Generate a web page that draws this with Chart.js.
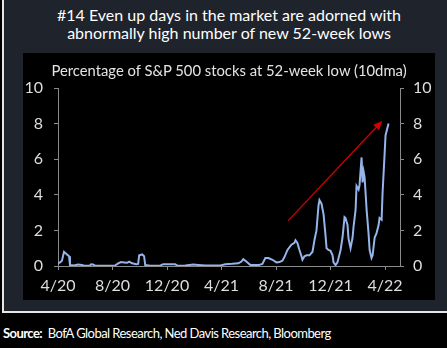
<!DOCTYPE html>
<html>
<head>
<meta charset="utf-8">
<script src="https://cdn.jsdelivr.net/npm/chart.js@4.4.1/dist/chart.umd.min.js"></script>
<style>
  body { margin: 0; background: #000; width: 447px; height: 348px; overflow: hidden; position: relative; font-family: Lato, sans-serif; }
  #frame { position: absolute; left: 2px; top: -5px; width: 470px; height: 318px; border: 2px solid #e6e6e6; background: #1e232c; box-sizing: border-box; }
  #inner { position: absolute; left: 23px; top: 53px; width: 412px; height: 247px; background: #000; }
  #title { position: absolute; left: 23px; top: 6px; width: 412px; text-align: center; color: #fff; font-size: 16px; line-height: 18px; }
  #subtitle { position: absolute; left: 23px; top: 61px; width: 412px; text-align: center; color: #e4e4e4; font-size: 14.8px; line-height: 18px; }
  #wrap { position: absolute; left: 23px; top: 53px; width: 412px; height: 247px; }
  #source { position: absolute; left: 3px; top: 325px; color: #fff; font-size: 13px; letter-spacing: -0.55px; }
</style>
</head>
<body>
<div id="frame"></div>
<div id="inner"></div>
<div id="title">#14 Even up days in the market are adorned with<br>abnormally high number of new 52-week lows</div>
<div id="wrap"><canvas id="chart" width="412" height="247"></canvas></div>
<div id="subtitle">Percentage of S&amp;P 500 stocks at 52-week low (10dma)</div>
<div id="source"><b>Source:</b>&nbsp; BofA Global Research, Ned Davis Research, Bloomberg</div>
<script>
// months since 4/20, and % of S&P 500 stocks at 52-week low (10dma)
const months = [0, 0.15, 0.29, 0.44, 0.66, 0.81, 0.88, 1.18, 1.47, 1.76, 1.91, 2.35, 2.43, 2.57, 2.72, 3.46, 4.19, 4.41, 4.63, 4.85,
  5.07, 5.22, 5.44, 5.74, 5.88, 5.96, 6.18, 6.32, 6.40, 6.76, 7.5, 7.72, 8.24, 8.6, 8.75, 9.34, 9.93, 10.29, 10.81, 11.91,
  12.28, 12.79, 13.24, 13.46, 13.6, 13.82, 14.12, 14.71, 15.0, 15.22, 15.44, 15.74, 16.03, 16.25, 16.47, 16.62, 16.84, 17.13, 17.35, 17.43,
  17.57, 17.72, 17.87, 17.94, 18.09, 18.24, 18.46, 18.68, 18.82, 18.97, 19.12, 19.19, 19.34, 19.49, 19.63, 19.71, 19.85, 20.0, 20.15, 20.22,
  20.37, 20.51, 20.74, 20.88, 21.03, 21.1, 21.25, 21.32, 21.47, 21.62, 21.69, 21.84, 21.91, 22.06, 22.13, 22.28, 22.35, 22.43, 22.5, 22.57,
  22.65, 22.79, 22.87, 23.01, 23.09, 23.24, 23.38, 23.53, 23.6, 23.75, 23.82, 23.97, 24.04, 24.19, 24.26];
const pctLow = [0.15, 0.2, 0.3, 0.8, 0.65, 0.55, 0.05, 0.03, 0.08, 0.06, 0.02, 0.03, 0.1, 0.08, 0.02, 0.02, 0.03, 0.15, 0.22, 0.2,
  0.18, 0.25, 0.15, 0.1, 0.12, 0.6, 0.65, 0.55, 0.05, 0.02, 0.02, 0.1, 0.1, 0.1, 0.02, 0.03, 0.08, 0.06, 0.03, 0.03,
  0.1, 0.12, 0.15, 0.25, 0.38, 0.25, 0.05, 0.05, 0.12, 0.45, 0.45, 0.35, 0.2, 0.22, 0.3, 0.5, 0.9, 1.2, 1.3, 1.45,
  1.3, 0.9, 0.55, 0.35, 0.55, 0.6, 0.6, 0.8, 1.45, 2.0, 3.4, 3.7, 3.5, 2.9, 1.75, 1.0, 0.9, 0.85, 0.6, 0.2,
  0.05, 0.2, 0.9, 1.6, 2.75, 2.7, 2.3, 1.55, 1.0, 1.6, 2.2, 3.15, 4.5, 4.3, 4.55, 6.1, 4.7, 5.3, 5.0, 4.15,
  3.15, 1.85, 0.9, 0.45, 0.6, 1.6, 1.85, 2.3, 2.7, 2.6, 4.1, 6.3, 7.35, 7.8, 8.0];
const xTickVals = [0, 4, 8, 12, 16, 20, 24];
const xTickLabels = ['4/20', '8/20', '12/20', '4/21', '8/21', '12/21', '4/22'];
const yTicks = [0, 2, 4, 6, 8, 10];
// red trend arrow, [month, pct]
const arrowFrom = [16.9, 2.55];
const arrowTo = [23.8, 8.15];

Chart.defaults.font.family = 'Lato';
const axisColor = '#8a8a8a';
const tickColor = '#dedede';

const arrowPlugin = {
  id: 'arrow',
  afterDatasetsDraw(chart) {
    const ctx = chart.ctx, xs = chart.scales.x, ys = chart.scales.y;
    const x1 = xs.getPixelForValue(arrowFrom[0]), y1 = ys.getPixelForValue(arrowFrom[1]);
    const x2 = xs.getPixelForValue(arrowTo[0]), y2 = ys.getPixelForValue(arrowTo[1]);
    const ang = Math.atan2(y2 - y1, x2 - x1);
    ctx.save();
    ctx.strokeStyle = '#d40000';
    ctx.fillStyle = '#d40000';
    ctx.lineWidth = 1.3;
    ctx.beginPath();
    ctx.moveTo(x1, y1);
    ctx.lineTo(x2 - 6 * Math.cos(ang), y2 - 6 * Math.sin(ang));
    ctx.stroke();
    ctx.beginPath();
    ctx.moveTo(x2, y2);
    ctx.lineTo(x2 - 9 * Math.cos(ang) + 4 * Math.sin(ang), y2 - 9 * Math.sin(ang) - 4 * Math.cos(ang));
    ctx.lineTo(x2 - 9 * Math.cos(ang) - 4 * Math.sin(ang), y2 - 9 * Math.sin(ang) + 4 * Math.cos(ang));
    ctx.closePath();
    ctx.fill();
    ctx.restore();
  }
};

function yAxis(pos, pad) {
  return {
    position: pos,
    min: 0, max: 10,
    afterBuildTicks: s => { s.ticks = yTicks.map(v => ({ value: v })); },
    afterFit: s => { s.width = 35; },
    grid: { drawOnChartArea: false, drawTicks: true, tickLength: 4, color: axisColor },
    border: { display: true, color: axisColor },
    ticks: { color: tickColor, font: { size: 16 }, padding: pad }
  };
}

new Chart(document.getElementById('chart'), {
  type: 'line',
  data: {
    datasets: [{
      data: months.map((m, i) => ({ x: m, y: pctLow[i] })),
      borderColor: '#94b4ea',
      borderWidth: 2,
      pointRadius: 0,
      tension: 0
    }]
  },
  options: {
    responsive: false,
    animation: false,
    layout: { padding: { top: 35, left: 0, right: 0, bottom: 0 } },
    plugins: { legend: { display: false }, tooltip: { enabled: false } },
    scales: {
      x: {
        type: 'linear',
        min: 0, max: 25.1,
        afterBuildTicks: s => { s.ticks = xTickVals.map(v => ({ value: v })); },
        afterFit: s => { s.height = 34; },
        grid: { drawOnChartArea: false, drawTicks: true, tickLength: 4, color: axisColor },
        border: { display: true, color: axisColor },
        ticks: { color: tickColor, font: { size: 16 }, padding: 6, maxRotation: 0, callback: (v, i) => xTickLabels[i] }
      },
      y: yAxis('left', 11),
      y2: yAxis('right', 9)
    }
  },
  plugins: [arrowPlugin]
});
</script>
</body>
</html>
